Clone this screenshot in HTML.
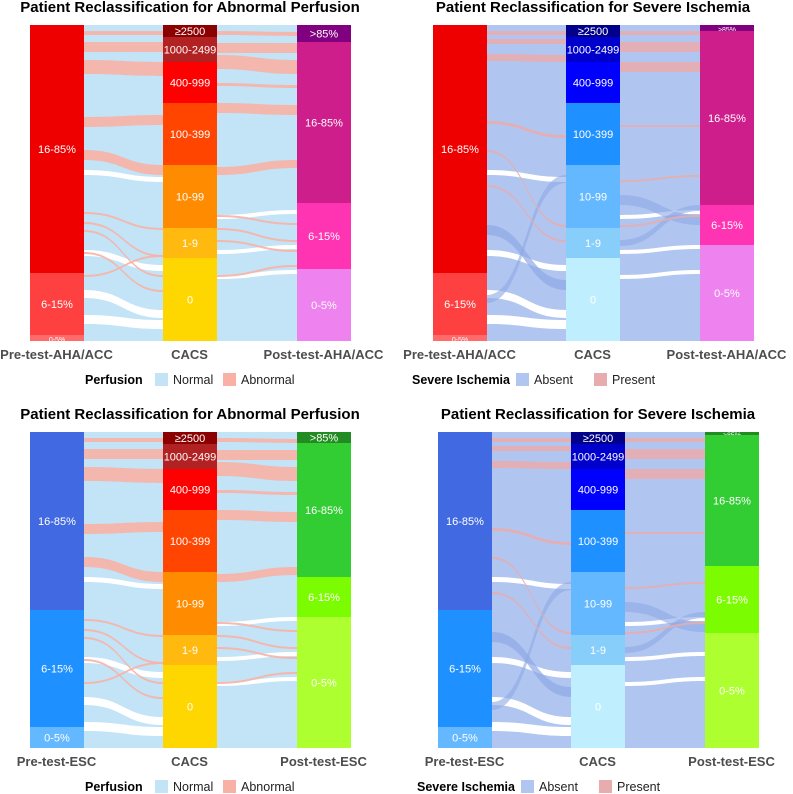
<!DOCTYPE html>
<html><head><meta charset="utf-8">
<style>
body{margin:0;background:#fff;font-family:"Liberation Sans",sans-serif;}
svg{display:block}
</style></head><body>
<svg id="c" width="793" height="794" xmlns="http://www.w3.org/2000/svg"></svg>
<script>
const NS="http://www.w3.org/2000/svg";
const svg=document.getElementById('c');
// stratum labels and sizes (share of 316 px column)
const cacsLabels=["≥2500","1000-2499","400-999","100-399","10-99","1-9","0"];
const cacsValues=[12,25,41,62,63,30,83];
const postLabels=[">85%","16-85%","6-15%","0-5%"];
const preLabels=["16-85%","6-15%","0-5%"];
const preAHA=[248,62,6];
const preESC=[178,117,21];
const postAHAperf=[17,161,66,72];
const postAHAisch=[6,174,40,96];
const postESCperf=[11,134,40,131];
const postESCisch=[3,131,67,115];
// abnormal/present ribbons: [yLeft, yRight, thickness] in column units
const redL_A=[[6,6,4],[17,17,10],[35,37,14],[92,90,10],[125,140,10],[187,203,2],[197,230,2],[205,250,2],[227,265,2],[250,230,2]];
const redR_A=[[6,7,4],[18,18,10],[30,35,14],[58,60,3],[78,80,10],[142,135,8],[190,198,2],[203,215,2],[215,225,2],[250,240,2]];
const redL_B=[[6,6,4],[14,14,5],[29,30,7],[96,110,3],[125,200,2],[160,215,2]];
const redR_B=[[6,6,4],[17,17,10],[37,37,10],[100,100,2],[155,150,2],[200,190,2]];
const whiteL=[[145,152,5],[225,240,6],[265,285,8],[290,295,9]];
const whiteR=[[190,185,4],[225,220,4],[250,245,4]];
const panels=[
 {x:30,y:25,title:"Patient Reclassification for Abnormal Perfusion",pre:preAHA,post:postAHAperf,preC:["#ee0000","#ff4040","#ff6a6a"],cacsC:["#8b0000","#b22222","#ff0000","#ff4500","#ff8c00","#ffb90f","#ffd700"],postC:["#800080","#cd1e8c","#ff34b3","#ee82ee"],bg:"#c3e3f7",red:"#f8b1a4",leg:"Perfusion",l1:"Normal",l2:"Abnormal",ax:["Pre-test-AHA/ACC","CACS","Post-test-AHA/ACC"],rl:redL_A,rr:redR_A,dark:null},
 {x:433,y:25,title:"Patient Reclassification for Severe Ischemia",pre:preAHA,post:postAHAisch,preC:["#ee0000","#ff4040","#ff6a6a"],cacsC:["#00008b","#0000cd","#0000ff","#1e90ff","#63b8ff","#87cefa","#bfefff"],postC:["#800080","#cd1e8c","#ff34b3","#ee82ee"],bg:"#b0c6f0",red:"#e7acae",leg:"Severe Ischemia",l1:"Absent",l2:"Present",ax:["Pre-test-AHA/ACC","CACS","Post-test-AHA/ACC"],rl:redL_B,rr:redR_B,dark:"#8ea8e6"},
 {x:30,y:432,title:"Patient Reclassification for Abnormal Perfusion",pre:preESC,post:postESCperf,preC:["#4169e1","#1e90ff","#63b8ff"],cacsC:["#8b0000","#b22222","#ff0000","#ff4500","#ff8c00","#ffb90f","#ffd700"],postC:["#228b22","#32cd32","#7cfc00","#adff2f"],bg:"#c3e3f7",red:"#f8b1a4",leg:"Perfusion",l1:"Normal",l2:"Abnormal",ax:["Pre-test-ESC","CACS","Post-test-ESC"],rl:redL_A,rr:redR_A,dark:null},
 {x:438,y:432,title:"Patient Reclassification for Severe Ischemia",pre:preESC,post:postESCisch,preC:["#4169e1","#1e90ff","#63b8ff"],cacsC:["#00008b","#0000cd","#0000ff","#1e90ff","#63b8ff","#87cefa","#bfefff"],postC:["#228b22","#32cd32","#7cfc00","#adff2f"],bg:"#b0c6f0",red:"#e7acae",leg:"Severe Ischemia",l1:"Absent",l2:"Present",ax:["Pre-test-ESC","CACS","Post-test-ESC"],rl:redL_B,rr:redR_B,dark:"#8ea8e6"}
];
const H=316, W=53, cols=[0,133,267];
function el(t,a,p){const e=document.createElementNS(NS,t);for(const k in a)e.setAttribute(k,a[k]);(p||svg).appendChild(e);return e;}
function ribbon(g,x0,x1,y0,y1,t,fill,op){
 const m=(x0+x1)/2;
 const d=`M${x0},${y0}C${m},${y0} ${m},${y1} ${x1},${y1}L${x1},${y1+t}C${m},${y1+t} ${m},${y0+t} ${x0},${y0+t}Z`;
 const p=el('path',{d:d,fill:fill,'fill-opacity':op||1},g);
 
 
}
function stratum(g,x,y,vals,labels,colors,name){
 const tot=vals.reduce((a,b)=>a+b,0);let c=0;
 vals.forEach((v,i)=>{
  const h=v/tot*H, yy=y+c/tot*H;
  const r=el('rect',{x:x,y:yy,width:W+1,height:h,fill:colors[i]},g);
  
  
  const fs=h<8?7:11;
  const t=el('text',{x:x+W/2+0.5,y:yy+h/2+4,'text-anchor':'middle','font-size':fs,fill:'#fff'},g);
  t.textContent=labels[i];
  
  
  c+=v;
 });
}
panels.forEach((p,pi)=>{
 const g=el('g',{});
 
 
 const tt=el('text',{x:p.x+160,y:p.y-13,'text-anchor':'middle','font-size':15,'font-weight':'bold',fill:'#000'},g);
 tt.textContent=p.title;
 
 
 el('rect',{x:p.x+W,y:p.y,width:cols[1]-W+1,height:H,fill:p.bg},g);
 el('rect',{x:p.x+cols[1]+W,y:p.y,width:cols[2]-cols[1]-W+1,height:H,fill:p.bg},g);
 const xl0=p.x+W+1,xl1=p.x+cols[1],xr0=p.x+cols[1]+W+1,xr1=p.x+cols[2];
 whiteL.forEach(w=>ribbon(g,xl0,xl1,p.y+w[0],p.y+w[1],w[2],'#fff'));
 whiteR.forEach(w=>ribbon(g,xr0,xr1,p.y+w[0],p.y+w[1],w[2],'#fff'));
 if(p.dark){
  ribbon(g,xl0,xl1,p.y+200,p.y+255,10,p.dark,0.7);
  ribbon(g,xl0,xl1,p.y+270,p.y+150,8,p.dark,0.6);
  ribbon(g,xr0,xr1,p.y+170,p.y+190,10,p.dark,0.6);
  ribbon(g,xr0,xr1,p.y+215,p.y+180,6,p.dark,0.6);
 }
 p.rl.forEach(w=>ribbon(g,xl0,xl1,p.y+w[0],p.y+w[1],w[2],p.red,0.9));
 p.rr.forEach(w=>ribbon(g,xr0,xr1,p.y+w[0],p.y+w[1],w[2],p.red,0.9));
 stratum(g,p.x+cols[0],p.y,p.pre,preLabels,p.preC,'pre');
 stratum(g,p.x+cols[1],p.y,cacsValues,cacsLabels,p.cacsC,'cacs');
 stratum(g,p.x+cols[2],p.y,p.post,postLabels,p.postC,'post');
 p.ax.forEach((a,i)=>{
  const t=el('text',{x:p.x+cols[i]+W/2,y:p.y+H+18,'text-anchor':'middle','font-size':13,'font-weight':'bold',fill:'#4d4d4d'},g);
  t.textContent=a;
  
  
 });
 const isP=p.leg==="Perfusion";
 const ly=p.y+H+38, lx=p.x+(isP?55:-21);
 const lt=el('text',{x:lx,y:ly+5,'font-size':12.5,'font-weight':'bold',fill:'#000'},g);
 lt.textContent=p.leg;
 
 
 const off=isP?70:104;
 const s1=el('rect',{x:lx+off,y:ly-6,width:13,height:13,fill:p.bg},g);
 
 
 const t1=el('text',{x:lx+off+18,y:ly+5,'font-size':12.5,fill:'#222'},g);t1.textContent=p.l1;
 
 
 const o2=off+(isP?68:78);
 const s2=el('rect',{x:lx+o2,y:ly-6,width:13,height:13,fill:p.red},g);
 
 
 const t2=el('text',{x:lx+o2+18,y:ly+5,'font-size':12.5,fill:'#222'},g);t2.textContent=p.l2;
 
 
});
</script>
</body></html>
